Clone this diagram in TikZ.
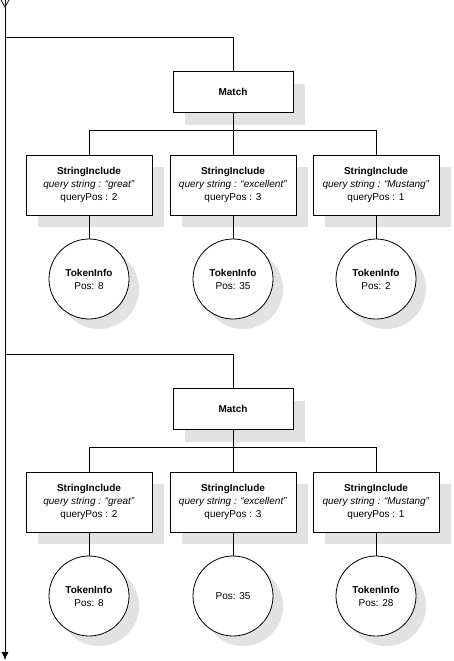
\documentclass[tikz,border=0pt]{standalone}
\usepackage{fontspec}
\setmainfont{Liberation Sans}
\usetikzlibrary{arrows.meta,shadows}
\definecolor{shadowgray}{RGB}{226,226,226}
\begin{document}
\begin{tikzpicture}[x=1pt,y=-1pt,
        font=\fontsize{10}{13}\selectfont,
        link/.style={line width=0.8pt},
        boxshadow/.style={drop shadow={shadow xshift=12pt,shadow yshift=-12pt,fill=shadowgray,opacity=1}},
        matchbox/.style={draw,fill=white,line width=0.8pt,minimum width=120pt,minimum height=41pt,font=\fontsize{10}{13}\selectfont\bfseries,boxshadow},
        strbox/.style={draw,fill=white,line width=0.8pt,minimum width=126pt,minimum height=60pt,align=center,boxshadow},
        token/.style={draw,circle,fill=white,line width=0.8pt,minimum size=80pt,inner sep=0pt,align=center,
            drop shadow={shadow xshift=10pt,shadow yshift=-10pt,fill=shadowgray,opacity=1}}]
            \useasboundingbox (0,0) rectangle (453,661);

            % main time line
            \coordinate (start) at (5,0);
            \coordinate (end) at (5,660);
            \draw[link] (1,0) -- (5,7) -- (9,0);
            \draw[link,-{Latex[length=8pt,width=7pt]}] (start) -- (end);

            % first match
            \node[matchbox] (match1) at (233,92) {Match};
            \node[strbox] (str11) at (89,185) {\textbf{StringInclude}\\\textit{query string : “great”}\\queryPos : 2};
            \node[strbox] (str12) at (233,185) {\textbf{StringInclude}\\\textit{query string : “excellent”}\\queryPos : 3};
            \node[strbox] (str13) at (376,185) {\textbf{StringInclude}\\\textit{query string : “Mustang”}\\queryPos : 1};
            \node[token] (tok11) at (89,279) {\textbf{TokenInfo}\\Pos: 8};
            \node[token] (tok12) at (233,279) {\textbf{TokenInfo}\\Pos: 35};
            \node[token] (tok13) at (376,279) {\textbf{TokenInfo}\\Pos: 2};

            \coordinate (branch1) at (5,37);
            \coordinate (bus1) at (233,130);
            \draw[link] (branch1) -| (match1.north);
            \draw[link] (match1) -- (bus1);
            \draw[link] (bus1) -| (str11.north);
            \draw[link] (bus1) -| (str13.north);
            \draw[link] (bus1) -- (str12);
            \draw[link] (str11) -- (tok11);
            \draw[link] (str12) -- (tok12);
            \draw[link] (str13) -- (tok13);

            % second match
            \node[matchbox] (match2) at (233,409) {Match};
            \node[strbox] (str21) at (89,502) {\textbf{StringInclude}\\\textit{query string : “great”}\\queryPos : 2};
            \node[strbox] (str22) at (233,502) {\textbf{StringInclude}\\\textit{query string : “excellent”}\\queryPos : 3};
            \node[strbox] (str23) at (376,502) {\textbf{StringInclude}\\\textit{query string : “Mustang”}\\queryPos : 1};
            \node[token] (tok21) at (89,596) {\textbf{TokenInfo}\\Pos: 8};
            \node[token] (tok22) at (233,596) {Pos: 35};
            \node[token] (tok23) at (376,596) {\textbf{TokenInfo}\\Pos: 28};

            \coordinate (branch2) at (5,354);
            \coordinate (bus2) at (233,447);
            \draw[link] (branch2) -| (match2.north);
            \draw[link] (match2) -- (bus2);
            \draw[link] (bus2) -| (str21.north);
            \draw[link] (bus2) -| (str23.north);
            \draw[link] (bus2) -- (str22);
            \draw[link] (str21) -- (tok21);
            \draw[link] (str22) -- (tok22);
            \draw[link] (str23) -- (tok23);
        \end{tikzpicture}
\end{document}
